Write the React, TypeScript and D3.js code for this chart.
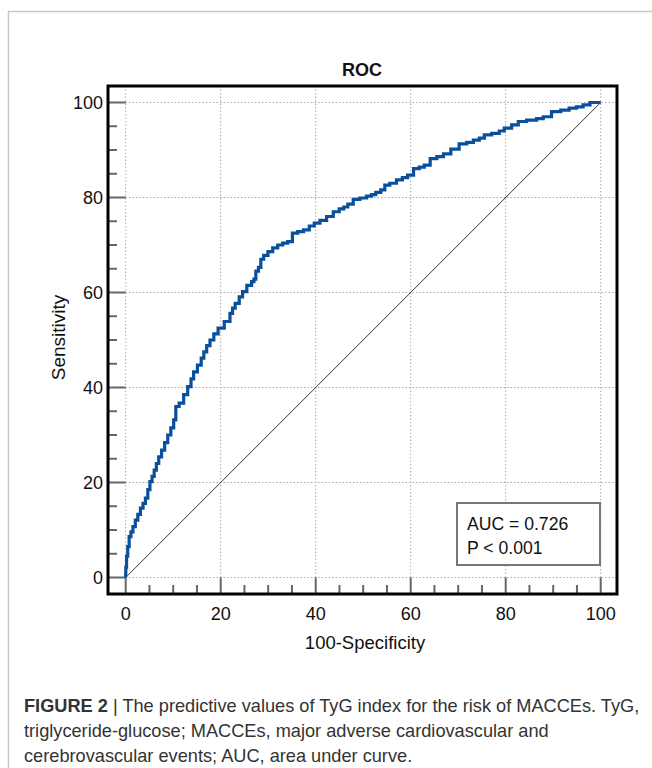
import React from "react";
import * as d3 from "d3";

const fpr = [0, 0, 0.06, 0.3, 0.55, 0.9, 1.3, 1.75, 2.3, 2.8, 3.4, 3.9, 4.4, 4.9, 5.3, 5.8, 6.2, 6.7, 7.2, 7.9, 8.5, 9.2, 9.8, 10.4, 10.7, 11.8, 12.6, 13.5, 14.0, 14.6, 15.6, 16.2, 16.7, 17.4, 18.1, 19.0, 19.9, 21.6, 22.3, 22.7, 23.4, 24.4, 24.8, 26.2, 26.8, 27.2, 27.6, 28.3, 28.6, 29.5, 30.4, 31.5, 32.5, 33.6, 34.6, 35.6, 36.8, 38.1, 39.2, 40.2, 41.6, 43, 44.4, 45.5, 46.3, 47.2, 48.6, 50, 51.4, 52.1, 53.2, 54.2, 54.9, 56.3, 57.7, 58.8, 59.9, 61.3, 62.3, 63.4, 64.8, 66.2, 67.6, 69.3, 71.1, 72.5, 73.9, 75, 76, 78.1, 79.2, 80.2, 82.3, 83, 85.8, 87.2, 88.6, 90.7, 92.5, 94.2, 95.6, 97, 98.5, 100];
const tpr = [0, 1, 2.2, 4.5, 6.5, 8.6, 9.6, 10.7, 12.1, 13.3, 14.6, 15.6, 16.7, 18.5, 20.2, 21.3, 22.6, 24, 25.4, 26.8, 28.4, 30, 31.5, 33.2, 36, 36.7, 38.5, 40.2, 41.8, 43.3, 44.7, 46.2, 47.5, 48.8, 50, 51.3, 52.5, 53.9, 55.6, 56.7, 57.7, 59.1, 60.2, 61.5, 62.3, 62.8, 64.5, 65.3, 67, 67.8, 68.6, 69.4, 70, 70.4, 70.7, 72.5, 72.8, 73.2, 74, 74.6, 75.2, 76, 77, 77.6, 78, 78.6, 79.6, 79.9, 80.3, 80.6, 81.1, 81.6, 82.6, 83, 83.7, 84.2, 84.7, 86.1, 86.4, 86.8, 88.2, 88.6, 89.2, 90.2, 91.3, 91.6, 92.1, 92.5, 93.2, 93.5, 94, 94.6, 95.3, 96, 96.3, 96.6, 97, 98.1, 98.4, 98.8, 99.1, 99.5, 100, 100];

const majorTicks = [0, 20, 40, 60, 80, 100];
const minorTicks = d3.range(0, 101, 5).filter((v) => v % 20 !== 0);
const legendLines = ["AUC = 0.726", "P < 0.001"];
const captionLines = [
  ["FIGURE 2", " | The predictive values of TyG index for the risk of MACCEs. TyG,"],
  ["", "triglyceride-glucose; MACCEs, major adverse cardiovascular and"],
  ["", "cerebrovascular events; AUC, area under curve."],
];

export default function App() {
  const W = 652, H = 768;
  const frame = { l: 108, t: 86, r: 617, b: 594 };
  const x = d3.scaleLinear().domain([0, 100]).range([125.7, 600.7]);
  const y = d3.scaleLinear().domain([0, 100]).range([577.5, 102.5]);
  const pts = fpr.map((f, i) => [f, tpr[i]] as [number, number]);
  const line = d3.line<[number, number]>().x((d) => x(d[0])).y((d) => y(d[1])).curve(d3.curveStep);
  const font = "Liberation Sans, Arial, sans-serif";
  return (
    <svg width={W} height={H} style={{ position: "absolute", left: 0, top: 0, background: "#fff" }} fontFamily={font}>
      <rect x={0} y={0} width={W} height={H} fill="#fff" />
      <line x1={8} y1={11.5} x2={W} y2={11.5} stroke="#c8c8c8" strokeWidth={1.5} />
      <line x1={8.5} y1={11} x2={8.5} y2={H} stroke="#c8c8c8" strokeWidth={1.5} />
      <text x={362} y={76} textAnchor="middle" fontSize={18} fontWeight="bold" fill="#111">ROC</text>
      {/* grid */}
      {majorTicks.map((v) => (
        <g key={"g" + v}>
          <line x1={x(v)} x2={x(v)} y1={frame.t} y2={frame.b} stroke="#aaa" strokeWidth={1} strokeDasharray="1.5,2" />
          <line x1={frame.l} x2={frame.r} y1={y(v)} y2={y(v)} stroke="#aaa" strokeWidth={1} strokeDasharray="1.5,2" />
        </g>
      ))}
      {/* ticks */}
      {majorTicks.map((v) => (
        <g key={"t" + v}>
          <line x1={frame.l} x2={x(0)} y1={y(v)} y2={y(v)} stroke="#666" strokeWidth={2} />
          <line x1={x(v)} x2={x(v)} y1={frame.b} y2={y(0)} stroke="#666" strokeWidth={2} />
          <text x={103} y={y(v) + 6.5} textAnchor="end" fontSize={18} fill="#111">{v}</text>
          <text x={x(v)} y={620} textAnchor="middle" fontSize={18} fill="#111">{v}</text>
        </g>
      ))}
      {minorTicks.map((v) => (
        <g key={"m" + v}>
          <line x1={frame.l} x2={frame.l + 9} y1={y(v)} y2={y(v)} stroke="#666" strokeWidth={2} />
          <line x1={x(v)} x2={x(v)} y1={frame.b} y2={frame.b - 9} stroke="#666" strokeWidth={2} />
        </g>
      ))}
      {/* diagonal */}
      <line x1={x(0)} y1={y(0)} x2={x(100)} y2={y(100)} stroke="#333" strokeWidth={1} />
      {/* ROC curve */}
      <path d={line(pts) || ""} fill="none" stroke="#0a4f9c" strokeWidth={3.2} strokeLinejoin="miter" />
      {/* frame */}
      <rect x={frame.l} y={frame.t} width={frame.r - frame.l} height={frame.b - frame.t} fill="none" stroke="#000" strokeWidth={3} />
      {/* legend */}
      <rect x={457} y={503} width={143} height={62} fill="#fff" stroke="#777" strokeWidth={2} />
      {legendLines.map((t, i) => (
        <text key={t} x={467} y={530 + i * 24} fontSize={17.6} fill="#111">{t}</text>
      ))}
      {/* axis titles */}
      <text x={365} y={649} textAnchor="middle" fontSize={18.5} fill="#111">100-Specificity</text>
      <text transform={`translate(65,337.5) rotate(-90)`} textAnchor="middle" fontSize={19} fill="#111">Sensitivity</text>
      {/* caption */}
      {captionLines.map((ln, i) => (
        <text key={i} x={24} y={712 + i * 25} fontSize={18.2} fill="#333">
          {ln[0] && <tspan fontWeight="bold">{ln[0]}</tspan>}
          <tspan>{ln[1]}</tspan>
        </text>
      ))}
    </svg>
  );
}
